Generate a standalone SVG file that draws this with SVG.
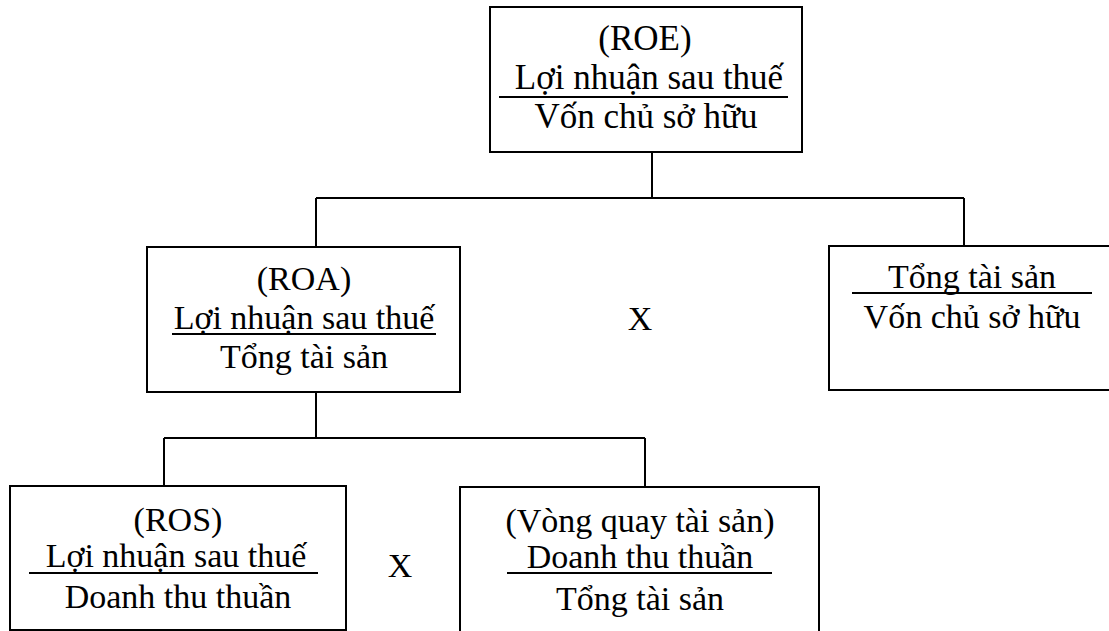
<svg xmlns="http://www.w3.org/2000/svg" width="1109" height="631" viewBox="0 0 1109 631">
<style>
.box{fill:#fff;stroke:#000;stroke-width:2}
.ln{stroke:#000;stroke-width:2;fill:none}
.ul{stroke:#000;stroke-width:1.8}
text{font-family:"Liberation Serif","Times New Roman",serif;font-size:34px;fill:#000;text-anchor:middle}
.big{font-size:35px}
</style>
<rect width="1109" height="631" fill="#fff"/>
<g id="connectors">
<path class="ln" d="M652,152 V198 M316,198 H964 M316,198 V247 M964,198 V246"/>
<path class="ln" d="M316,392 V438 M164,438 H645 M164,438 V486 M645,438 V487"/>
</g>
<g id="roe">
<rect class="box" x="490" y="7" width="312" height="145"/>
<text class="big" x="645" y="50">(ROE)</text>
<text class="big" x="649" y="89">Lợi nhuận sau thuế</text>
<line class="ul" x1="499" y1="97" x2="788" y2="97"/>
<text class="big" x="646" y="128">Vốn chủ sở hữu</text>
</g>
<g id="roa">
<rect class="box" x="147" y="247" width="313" height="145"/>
<text x="304" y="290">(ROA)</text>
<text x="304" y="329">Lợi nhuận sau thuế</text>
<line class="ul" x1="172" y1="334" x2="436" y2="334"/>
<text x="304" y="368">Tổng tài sản</text>
</g>
<g id="x1"><text x="640" y="330">X</text></g>
<g id="leverage">
<rect class="box" x="829" y="246" width="290" height="144"/>
<text x="972" y="288">Tổng tài sản</text>
<line class="ul" x1="852" y1="293" x2="1092" y2="293"/>
<text x="972" y="328">Vốn chủ sở hữu</text>
</g>
<g id="ros">
<rect class="box" x="10" y="486" width="336" height="144"/>
<text x="178" y="531">(ROS)</text>
<text x="176" y="567">Lợi nhuận sau thuế</text>
<line class="ul" x1="29" y1="573" x2="318" y2="573"/>
<text x="178" y="608">Doanh thu thuần</text>
</g>
<g id="x2"><text x="400" y="577">X</text></g>
<g id="turnover">
<rect class="box" x="460" y="487" width="359" height="160"/>
<text x="640" y="532">(Vòng quay tài sản)</text>
<text x="640" y="568">Doanh thu thuần</text>
<line class="ul" x1="507" y1="573" x2="772" y2="573"/>
<text x="640" y="610">Tổng tài sản</text>
</g>
</svg>
